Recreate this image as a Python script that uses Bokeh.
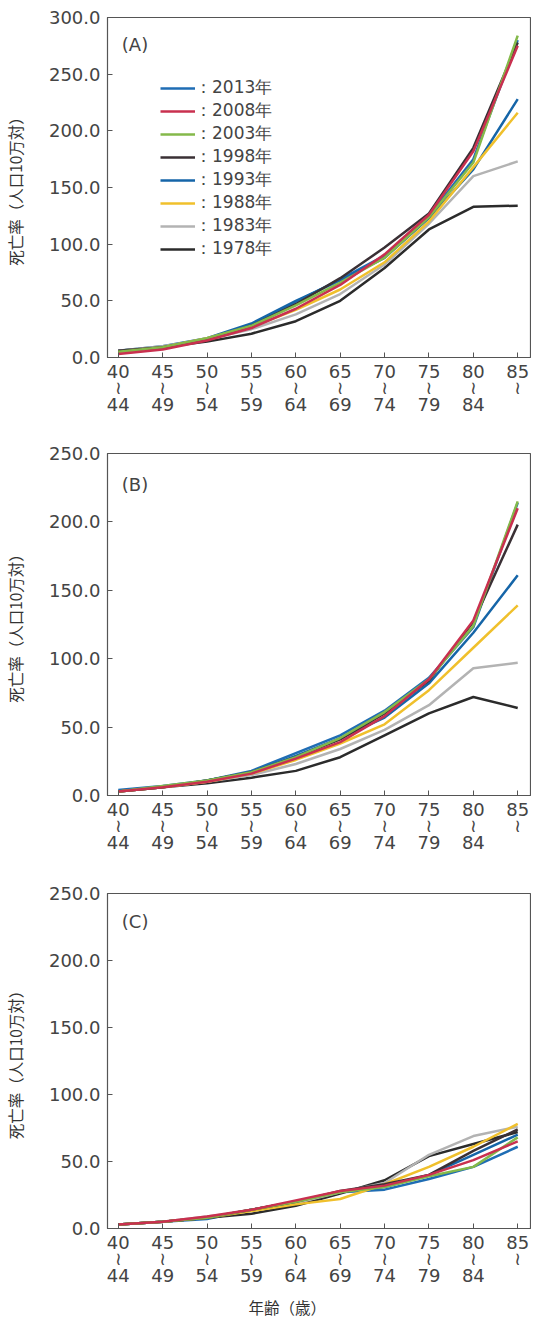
from bokeh.plotting import figure
from bokeh.layouts import column
from bokeh.models import (Range1d, FixedTicker, PrintfTickFormatter, Legend,
                          LegendItem, Label, Title)
from bokeh.embed import file_html
from bokeh.resources import INLINE

# ---------------- data ----------------
age_labels = ["40\n≀\n44", "45\n≀\n49", "50\n≀\n54", "55\n≀\n59", "60\n≀\n64",
              "65\n≀\n69", "70\n≀\n74", "75\n≀\n79", "80\n≀\n84", "85\n≀"]
years = ["2013", "2008", "2003", "1998", "1993", "1988", "1983", "1978"]
year_colors = ["#1f6db4", "#c9304f", "#84b94a", "#3a3035",
               "#1565a8", "#f0c02c", "#b3b3b3", "#2b2b2b"]

# Panel (A)
a_2013 = [5, 9, 16, 29, 49, 69, 90, 125, 175, 280]
a_2008 = [3, 7, 15, 26, 43, 64, 91, 126, 182, 275]
a_2003 = [5, 9, 17, 28, 46, 66, 88, 124, 172, 284]
a_1998 = [6, 9, 16, 28, 47, 70, 97, 127, 185, 278]
a_1993 = [6, 10, 17, 30, 50, 68, 88, 123, 166, 228]
a_1988 = [5, 9, 17, 27, 42, 60, 84, 120, 168, 216]
a_1983 = [6, 10, 16, 25, 38, 56, 82, 118, 160, 173]
a_1978 = [6, 9, 14, 21, 32, 50, 79, 113, 133, 134]

# Panel (B)
b_2013 = [4, 7, 11, 18, 31, 44, 62, 86, 123, 214]
b_2008 = [3, 6, 10, 16, 27, 39, 58, 85, 128, 210]
b_2003 = [3, 7, 11, 17, 28, 42, 61, 85, 124, 215]
b_1998 = [3, 6, 11, 17, 28, 41, 60, 84, 127, 198]
b_1993 = [3, 6, 11, 17, 29, 42, 57, 82, 119, 161]
b_1988 = [3, 6, 10, 16, 26, 38, 52, 77, 108, 139]
b_1983 = [3, 6, 10, 15, 23, 34, 48, 66, 93, 97]
b_1978 = [3, 6, 9, 13, 18, 28, 44, 60, 72, 64]

# Panel (C)
c_2013 = [3, 5, 7, 14, 20, 27, 29, 37, 46, 61]
c_2008 = [3, 5, 9, 14, 21, 28, 32, 40, 51, 65]
c_2003 = [3, 5, 8, 14, 20, 27, 31, 39, 46, 68]
c_1998 = [3, 5, 8, 14, 20, 28, 33, 40, 58, 74]
c_1993 = [3, 5, 8, 14, 20, 27, 31, 40, 55, 70]
c_1988 = [3, 5, 8, 13, 18, 22, 33, 46, 61, 78]
c_1983 = [3, 5, 9, 13, 19, 27, 34, 55, 69, 76]
c_1978 = [3, 5, 8, 11, 17, 26, 36, 54, 63, 72]

panel_a = [a_2013, a_2008, a_2003, a_1998, a_1993, a_1988, a_1983, a_1978]
panel_b = [b_2013, b_2008, b_2003, b_1998, b_1993, b_1988, b_1983, b_1978]
panel_c = [c_2013, c_2008, c_2003, c_1998, c_1993, c_1988, c_1983, c_1978]

y_title = "死亡率（人口10万対）"
x_title = "年齢（歳）"

draw_order = ["2013", "1993", "1978", "1983", "1988", "1998", "2003", "2008"]

TXT = "#444444"
AX = "#555555"
JP = "Noto Sans CJK JP"
LAT = "DejaVu Sans"


def make_panel(tag, tag_y, series, ymax, height, top, bottom,
               legend=False, xtitle=False):
    p = figure(width=531, height=height,
               x_range=Range1d(-0.243, 9.288), y_range=Range1d(0, ymax),
               output_backend="svg", toolbar_location=None,
               min_border_left=99, min_border_right=1,
               min_border_top=top, min_border_bottom=bottom)
    p.grid.visible = False
    p.outline_line_color = AX
    p.outline_line_width = 1.2
    p.background_fill_color = "white"
    p.border_fill_color = "white"

    xs = list(range(len(age_labels)))
    renderers = {}
    for yr in draw_order:
        i = years.index(yr)
        r = p.line(xs, series[i], line_color=year_colors[i], line_width=2.5)
        renderers[yr] = r

    xa = p.xaxis[0]
    xa.ticker = FixedTicker(ticks=xs)
    xa.major_label_overrides = {i: lab for i, lab in enumerate(age_labels)}
    xa.major_tick_in = 5
    xa.major_tick_out = 0
    xa.minor_tick_in = 0
    xa.minor_tick_out = 0
    xa.axis_line_color = AX
    xa.major_tick_line_color = AX
    xa.major_label_text_font = LAT
    xa.major_label_text_font_size = "18px"
    xa.major_label_text_color = TXT
    xa.major_label_standoff = 3
    xa.major_label_text_line_height = 0.8

    ya = p.yaxis[0]
    ya.ticker = FixedTicker(ticks=list(range(0, ymax + 1, 50)))
    ya.formatter = PrintfTickFormatter(format="%.1f")
    ya.major_tick_in = 5
    ya.major_tick_out = 0
    ya.minor_tick_in = 0
    ya.minor_tick_out = 0
    ya.axis_line_color = AX
    ya.major_tick_line_color = AX
    ya.major_label_text_font = LAT
    ya.major_label_text_font_size = "18px"
    ya.major_label_text_color = TXT
    ya.major_label_standoff = 7
    ya.axis_label = y_title
    ya.axis_label_text_font = JP
    ya.axis_label_text_font_size = "15.5px"
    ya.axis_label_text_font_style = "normal"
    ya.axis_label_text_color = "#333333"
    ya.axis_label_standoff = 20

    p.add_layout(Label(x=0.08, y=tag_y, text=tag, text_baseline="middle",
                       text_font=LAT, text_font_size="18px", text_color=TXT))

    if legend:
        items = [LegendItem(label="：" + yr + "年", renderers=[renderers[yr]])
                 for yr in years]
        lg = Legend(items=items, location=(53, 97), padding=0, margin=0,
                    spacing=0, glyph_width=35, glyph_height=22, label_height=22,
                    label_standoff=0, border_line_alpha=0,
                    background_fill_alpha=0,
                    label_text_font=LAT, label_text_font_size="17px",
                    label_text_color=TXT)
        p.add_layout(lg)

    if xtitle:
        t = Title(text=x_title, align="left", offset=141, standoff=9,
                  text_font=JP, text_font_size="15.5px",
                  text_font_style="normal", text_color="#333333")
        p.add_layout(t, "below")
    return p


pA = make_panel("(A)", 276, panel_a, 300, 440, 17, 83, legend=True)
pB = make_panel("(B)", 227, panel_b, 250, 440, 13, 85)
pC = make_panel("(C)", 229, panel_c, 250, 442, 13, 90, xtitle=True)

layout = column(pA, pB, pC, spacing=0)
open("out.html", "w").write(file_html(layout, INLINE))
